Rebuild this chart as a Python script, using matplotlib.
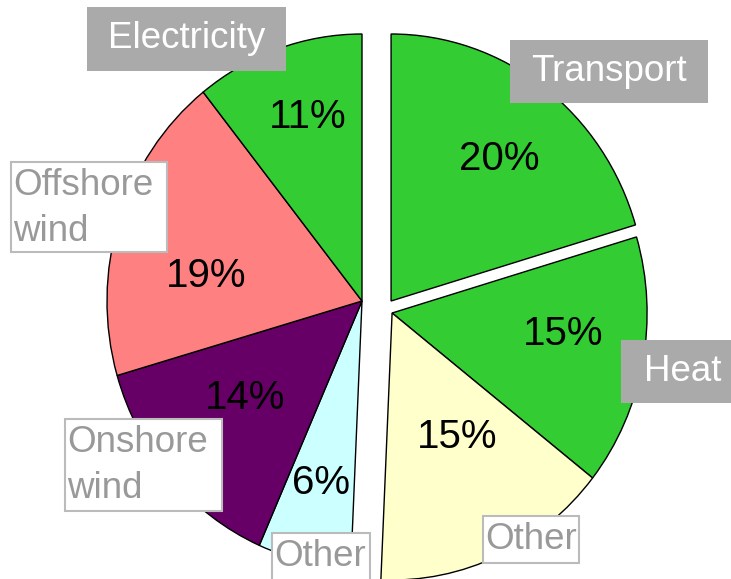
import numpy as np
import matplotlib
matplotlib.use("Agg")
import matplotlib.pyplot as plt
from matplotlib.patches import Rectangle

plt.rcParams["font.family"] = ["Liberation Sans", "DejaVu Sans"]

# slices, clockwise from 12 o'clock
sectors = ["Transport", "Heat", "Other", "Other", "Onshore wind", "Offshore wind", "Electricity"]
shares = [20.4, 15.2, 15.1, 5.9, 13.9, 18.8, 10.7]
colors = ["#33cc33", "#33cc33", "#ffffcc", "#ccffff", "#660066", "#ff8080", "#33cc33"]
label_text = ["Transport", "Heat", "Other", "Other", "Onshore\nwind", "Offshore\nwind", "Electricity"]

# slices pulled out together (index groups) and where their apex sits
groups = [[0], [1, 2], [3, 4, 5, 6]]
group_centers = [(0.114, 0.0), (0.118, -0.045), (0.0, 0.0)]

# percent label placement (fraction of radius, turn in degrees from mid angle)
pct_radius = [0.68, 0.675, 0.53, 0.70, 0.585, 0.62, 0.72]
pct_turn = [-2, 4, 4, 0, -3, 9, -2]

# label boxes in pixels: x0, y0, x1, y1, filled?
label_boxes = [
    (510, 40, 708, 103, True),
    (621, 340, 745, 403, True),
    (483, 516, 579, 563, False),
    (272, 533, 370, 590, False),
    (65, 419, 222, 511, False),
    (11, 162, 167, 252, False),
    (87, 7, 286, 71, True),
]

W, H = 731, 579
fig = plt.figure(figsize=(W / 100, H / 100), dpi=100)
ax = fig.add_axes([0, 0, 1, 1])

frac = np.array(shares) / 100.0
wedges = {}
for idx, c in zip(groups, group_centers):
    start = 90 - 360 * frac[:idx[0]].sum()
    ws, _ = ax.pie(frac[idx], colors=[colors[i] for i in idx], startangle=start,
                   counterclock=False, normalize=False, center=c,
                   wedgeprops=dict(edgecolor="black", linewidth=1.0))
    for i, w in zip(idx, ws):
        wedges[i] = w

for i in range(len(shares)):
    w = wedges[i]
    mid = np.deg2rad((w.theta1 + w.theta2) / 2 + pct_turn[i])
    cx, cy = w.center
    ax.text(cx + pct_radius[i] * np.cos(mid), cy + pct_radius[i] * np.sin(mid),
            f"{shares[i]:.0f}%", ha="center", va="center", fontsize=29,
            color="black", zorder=4)

# pixel layout: radius 1 = 255 px across, 267 px up/down, apex at (362, 301)
ax.set_aspect("auto")
ax.set_xlim(-362 / 255, (W - 362) / 255)
ax.set_ylim((301 - H) / 267, 301 / 267)
ax.axis("off")

for txt, (x0, y0, x1, y1, filled) in zip(label_text, label_boxes):
    rect = Rectangle((x0 / W, 1 - y1 / H), (x1 - x0) / W, (y1 - y0) / H,
                     transform=fig.transFigure, clip_on=False, zorder=5,
                     facecolor="#aaaaaa" if filled else "white",
                     edgecolor="none" if filled else "#bbbbbb",
                     linewidth=1.5)
    ax.add_patch(rect)
    if filled:
        ax.text((x0 + x1) / 2 / W, 1 - (y0 + y1) / 2 / H, txt, transform=fig.transFigure,
                ha="center", va="center", fontsize=26.5, color="white", zorder=6,
                clip_on=False)
    else:
        ax.text((x0 + 2) / W, 1 - (y0 + 6) / H, txt, transform=fig.transFigure,
                ha="left", va="top", fontsize=26.5, color="#999999", zorder=6,
                linespacing=1.42, clip_on=False)

fig.savefig("out.png", dpi=100)
